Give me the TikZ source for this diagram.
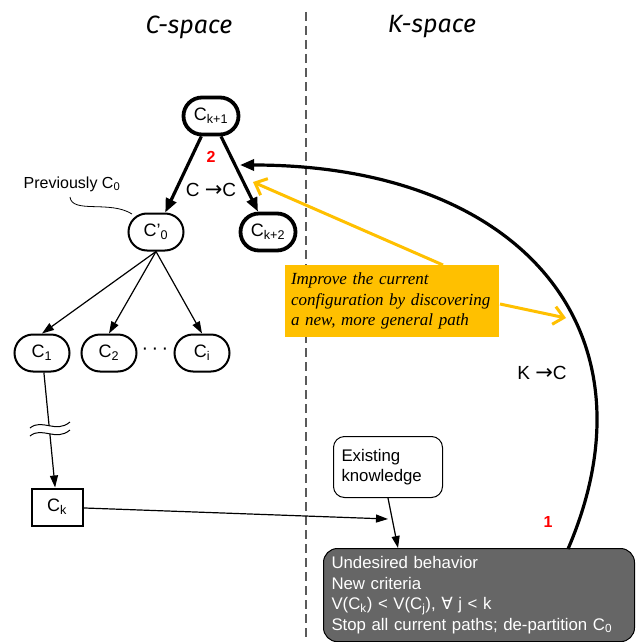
\documentclass[tikz,border=0pt]{standalone}
\usepackage{fontspec}
\setmainfont{Liberation Sans}
\newfontfamily\serifit{Liberation Serif}
\newfontfamily\titlefont{Fira Sans}
\newfontfamily\symfont{DejaVu Sans}
\usetikzlibrary{arrows.meta,shapes.misc}
\definecolor{ybox}{RGB}{255,192,0}
\definecolor{dgray}{RGB}{102,102,102}
\definecolor{dashgray}{RGB}{90,90,90}
\newcommand{\bigarrowglyph}{{\symfont\fontsize{21}{20}\selectfont →}}
\tikzset{
  cnode/.style={rounded rectangle, draw, line width=2pt, minimum width=55, minimum height=37, inner sep=0pt, font=\fontsize{18}{20}\selectfont},
  cbold/.style={cnode, line width=3.8pt},
  thinarrow/.style={line width=1.2pt, -{Triangle[length=12pt,width=8pt]}},
  thickarrow/.style={line width=3.2pt, -{Triangle[length=14pt,width=11pt]}},
  yarrow/.style={ybox, line width=3pt, -{Straight Barb[length=10pt,width=18pt,line width=3pt]}},
  redlbl/.style={text=red, font=\fontsize{16}{18}\selectfont\bfseries},
  titlelbl/.style={font=\fontsize{25}{28}\selectfont\titlefont\itshape},
  plainlbl/.style={font=\fontsize{19}{20}\selectfont},
}
\begin{document}
\begin{tikzpicture}[x=1pt,y=-1pt]
\useasboundingbox (0,0) rectangle (638,642);
\clip (0,0) rectangle (638,642);
\fill[white] (0,0) rectangle (638,642);
% titles and divider
\node[titlelbl] (ctitle) at (189,27) {C-space};
\node[titlelbl] (ktitle) at (432,27) {K-space};
\coordinate (divtop) at (306,12);
\coordinate (divbot) at (306,642);
\draw[dashgray, line width=1.5pt, dash pattern=on 9pt off 5pt] (divtop) -- (divbot);
% C-space nodes
\node[cbold] (ck1) at (211,116) {C\textsubscript{k+1}};
\node[cnode] (c0) at (156,232) {C’\textsubscript{0}};
\node[cbold] (ck2) at (268,232) {C\textsubscript{k+2}};
\node[cnode] (c1) at (42,353) {C\textsubscript{1}};
\node[cnode] (c2) at (109,353) {C\textsubscript{2}};
\node[cnode] (ci) at (202,353) {C\textsubscript{i}};
\node[font=\fontsize{20}{20}\selectfont] (dots) at (155,351) {·\,·\,·};
\node[rectangle, draw, line width=2pt, minimum width=51, minimum height=37, inner sep=0pt, font=\fontsize{18}{20}\selectfont] (ck) at (57,507) {C\textsubscript{k}};
% labels
\node[redlbl] (two) at (211,157) {2};
\node[plainlbl] (cc) at (211,190) {C \bigarrowglyph C};
\node[font=\fontsize{16}{18}\selectfont] (prev) at (72,184) {Previously C\textsubscript{0}};
\coordinate (prevend) at (132,214);
\draw[line width=0.8pt] (70,197) .. controls (72,214) and (110,200) .. (prevend);
% arrows in C-space
\draw[thickarrow] (ck1) -- (c0);
\draw[thickarrow] (ck1) -- (ck2);
\draw[thinarrow] (c0.south) -- (c1.north);
\draw[thinarrow] (c0.south) -- (c2.north);
\draw[thinarrow] (c0.south) -- (ci.north);
\draw[thinarrow] (c1) -- (ck);
% break marks
\fill[white] (30,428) .. controls (42,418) and (56,434) .. (70,422) -- (70,430) .. controls (56,442) and (42,426) .. (30,436) -- cycle;
\draw[line width=1pt] (30,428) .. controls (42,418) and (56,434) .. (70,422);
\draw[line width=1pt] (30,436) .. controls (42,426) and (56,442) .. (70,430);
% K-space
\node[draw, rounded corners=11pt, line width=1pt, minimum width=109, minimum height=61, text width=93, inner xsep=8pt, align=left, font=\fontsize{16.8}{20}\selectfont] (ek) at (388,467) {Existing\\knowledge};
\node[draw, fill=dgray, rounded corners=14pt, line width=1pt, anchor=north west, text width=295, inner xsep=8pt, inner ysep=8pt, minimum width=311, align=left, text=white, font=\fontsize{16.8}{20.5}\selectfont] (und) at (323,548) {Undesired behavior\\New criteria\\V(C\textsubscript{k}) < V(C\textsubscript{j}), {\symfont ∀} j < k\\Stop all current paths; de-partition C\textsubscript{0}\\[6pt]};
\coordinate (ckend) at (388,519);
\coordinate (undtop) at (398,548);
\draw[thinarrow] (ck) -- (ckend);
\draw[thinarrow] (ek.south) -- (undtop);
\node[redlbl] (one) at (548,522) {1};
\node[plainlbl] (kc) at (542,373) {K \bigarrowglyph C};
\coordinate (kstart) at (568,549);
\coordinate (ktip) at (240,165);
\draw[thickarrow] (kstart) .. controls (662,330) and (520,165) .. (ktip);
% yellow callout
\node[fill=ybox, minimum width=214, minimum height=72, text width=202, inner sep=0pt, align=left, font=\fontsize{17}{20.5}\selectfont\serifit\itshape] (yb) at (392,301) {Improve the current\\configuration by discovering\\a new, more general path};
\coordinate (ytip1) at (253,182);
\coordinate (ystart1) at (443,265);
\coordinate (ystart2) at (500,304);
\coordinate (ytip2) at (566,318);
\draw[yarrow] (ystart1) -- (ytip1);
\draw[yarrow] (ystart2) -- (ytip2);
\end{tikzpicture}
\end{document}
